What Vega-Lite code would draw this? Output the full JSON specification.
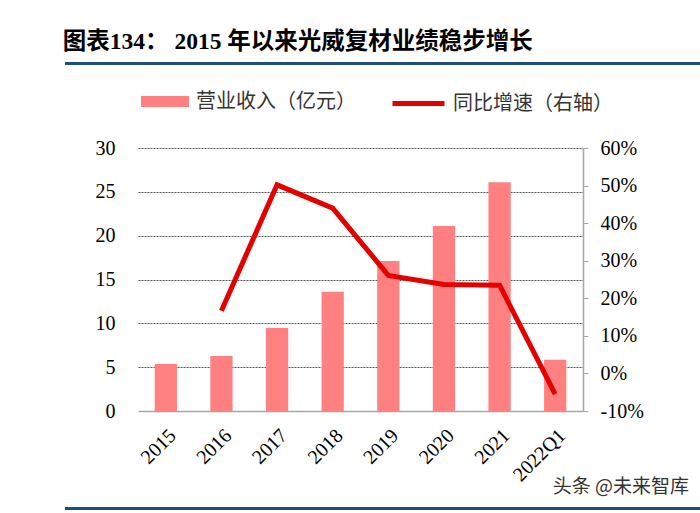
{
  "$schema": "https://vega.github.io/schema/vega-lite/v6.json",
  "background": "white",
  "padding": {"left": 62, "top": 30, "right": 0, "bottom": 3},
  "title": {
    "text": "图表134： 2015 年以来光威复材业绩稳步增长",
    "anchor": "start",
    "font": "Liberation Serif, Noto Sans CJK SC",
    "fontSize": 23.5,
    "fontWeight": "bold",
    "color": "black",
    "offset": 7
  },
  "spacing": 71,
  "vconcat": [
    {
      "width": 638,
      "height": 3,
      "view": {"fill": "#1F4E79", "stroke": null},
      "data": {"values": [{"k": 1}]},
      "mark": {"type": "point", "opacity": 0},
      "encoding": {}
    },
    {
      "spacing": -8,
      "vconcat": [
        {
          "spacing": 0,
          "hconcat": [
            {
              "width": 1,
              "height": 263,
              "view": {"stroke": null},
              "data": {"values": [{"k": 1}]},
              "mark": {"type": "point", "opacity": 0},
              "encoding": {}
            },
            {
              "width": 445,
              "height": 263,
              "view": {"stroke": null},
              "data": {
                "values": [
                  {"period": "2015", "revenue": 5.36, "growth": null},
                  {"period": "2016", "revenue": 6.27, "growth": 16.7},
                  {"period": "2017", "revenue": 9.47, "growth": 50.2},
                  {"period": "2018", "revenue": 13.6, "growth": 44.0},
                  {"period": "2019", "revenue": 17.1, "growth": 26.1},
                  {"period": "2020", "revenue": 21.1, "growth": 23.7},
                  {"period": "2021", "revenue": 26.1, "growth": 23.5},
                  {"period": "2022Q1", "revenue": 5.86, "growth": -5.5}
                ]
              },
              "layer": [
                {
                  "mark": {"type": "bar", "color": "#FF8080"},
                  "encoding": {
                    "x": {
                      "field": "period",
                      "type": "nominal",
                      "sort": null,
                      "scale": {"paddingInner": 0.6},
                      "axis": {
                        "title": null,
                        "labelAngle": -45,
                        "labelFont": "Liberation Serif",
                        "labelFontSize": 20,
                        "labelColor": "black",
                        "labelPadding": 14,
                        "ticks": false,
                        "domainColor": "#A6A6A6",
                        "domainWidth": 1.5
                      }
                    },
                    "y": {
                      "field": "revenue",
                      "type": "quantitative",
                      "scale": {"domain": [0, 30]},
                      "axis": {
                        "title": null,
                        "values": [0, 5, 10, 15, 20, 25, 30],
                        "domain": false,
                        "ticks": false,
                        "labelPadding": 23,
                        "labelFont": "Liberation Serif",
                        "labelFontSize": 20,
                        "labelColor": "black",
                        "minExtent": 69,
                        "maxExtent": 69,
                        "grid": true,
                        "gridDash": [2, 1],
                        "gridColor": {"condition": {"test": "datum.value === 0", "value": "transparent"}, "value": "#555555"}
                      }
                    },
                    "fill": {
                      "datum": "营业收入（亿元）",
                      "scale": {"range": ["#FF8080"]},
                      "legend": {
                        "orient": "none",
                        "legendX": 76,
                        "legendY": 15.5,
                        "title": null,
                        "symbolType": "M-1,-0.23H1V0.23H-1Z",
                        "symbolSize": 2304,
                        "symbolStrokeWidth": 0,
                        "labelFont": "Noto Sans CJK SC",
                        "labelFontSize": 20,
                        "labelColor": "#333333",
                        "labelOffset": 7
                      }
                    }
                  }
                },
                {
                  "transform": [{"filter": "datum.growth != null"}],
                  "mark": {"type": "line", "strokeWidth": 5, "color": "#E50000"},
                  "encoding": {
                    "x": {"field": "period", "type": "nominal", "sort": null},
                    "y": {
                      "field": "growth",
                      "type": "quantitative",
                      "scale": {"domain": [-10, 60]},
                      "axis": {
                        "orient": "right",
                        "title": null,
                        "values": [-10, 0, 10, 20, 30, 40, 50, 60],
                        "labelExpr": "datum.value + '%'",
                        "grid": false,
                        "domainColor": "#A6A6A6",
                        "domainWidth": 1.5,
                        "tickColor": "#A6A6A6",
                        "tickSize": 5,
                        "labelPadding": 12,
                        "labelFont": "Liberation Serif",
                        "labelFontSize": 20,
                        "labelColor": "black"
                      }
                    },
                    "stroke": {
                      "datum": "同比增速（右轴）",
                      "scale": {"range": ["#E50000"]},
                      "legend": {
                        "orient": "none",
                        "legendX": 325,
                        "legendY": 13,
                        "title": null,
                        "symbolType": "M-1,0H1",
                        "symbolSize": 2704,
                        "symbolStrokeWidth": 5,
                        "labelFont": "Noto Sans CJK SC",
                        "labelFontSize": 20,
                        "labelColor": "#333333",
                        "labelOffset": 6
                      }
                    }
                  }
                }
              ],
              "resolve": {"scale": {"y": "independent"}}
            }
          ]
        },
        {
          "width": 638,
          "height": 3,
          "view": {"fill": "#1F4E79", "stroke": null},
          "title": {
            "text": "头条 @未来智库",
            "anchor": "end",
            "font": "Noto Sans CJK SC",
            "fontSize": 19,
            "fontWeight": "normal",
            "color": "#333333",
            "dx": -14,
            "offset": 9
          },
          "data": {"values": [{"k": 1}]},
          "mark": {"type": "point", "opacity": 0},
          "encoding": {}
        }
      ]
    }
  ]
}
